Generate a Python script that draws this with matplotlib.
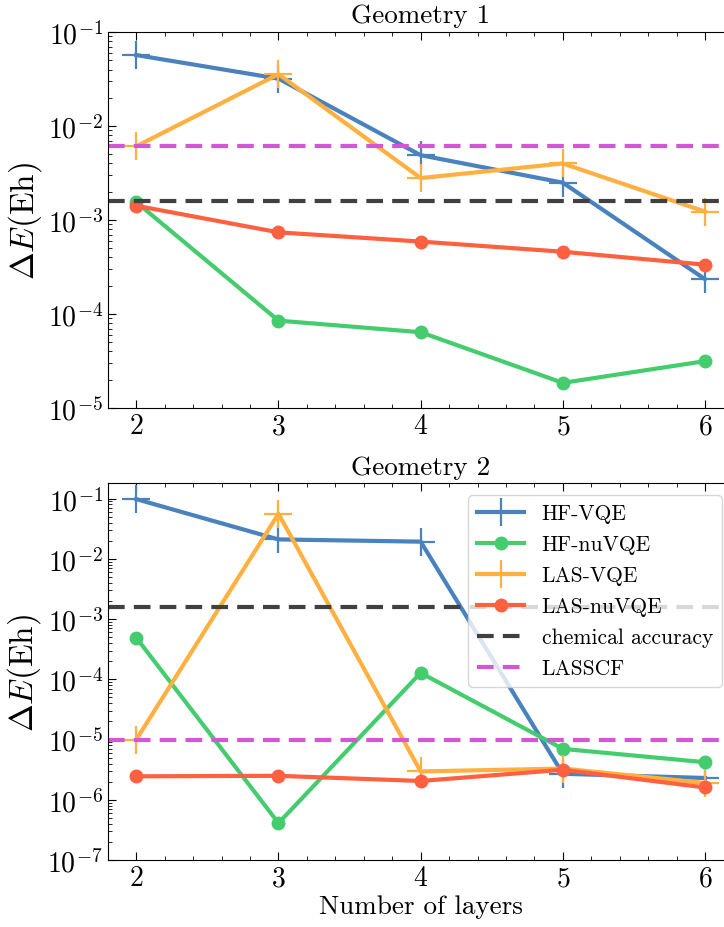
import matplotlib
matplotlib.use("Agg")
import matplotlib.pyplot as plt
from matplotlib.ticker import AutoMinorLocator, LogLocator, NullFormatter

plt.rcParams['font.family'] = 'serif'
plt.rcParams['font.serif'] = ['cmr10']
plt.rcParams['mathtext.fontset'] = 'cm'
plt.rcParams['axes.unicode_minus'] = False
plt.rcParams['axes.formatter.use_mathtext'] = True

layers = [2, 3, 4, 5, 6]

# Geometry 1
g1_hf_vqe = [0.057, 0.032, 0.0049, 0.0025, 2.35e-4]
g1_hf_nuvqe = [1.55e-3, 8.5e-5, 6.4e-5, 1.85e-5, 3.15e-5]
g1_las_vqe = [0.0061, 0.0357, 0.0028, 0.0040, 0.00123]
g1_las_nuvqe = [1.42e-3, 7.4e-4, 5.9e-4, 4.6e-4, 3.35e-4]
g1_lasscf = 0.0061

# Geometry 2
g2_hf_vqe = [0.098, 0.021, 0.0193, 2.7e-6, 2.3e-6]
g2_hf_nuvqe = [4.9e-4, 4.1e-7, 1.28e-4, 7.0e-6, 4.2e-6]
g2_las_vqe = [1.0e-5, 0.056, 2.95e-6, 3.3e-6, 1.9e-6]
g2_las_nuvqe = [2.45e-6, 2.5e-6, 2.05e-6, 3.15e-6, 1.6e-6]
g2_lasscf = 1.0e-5

chem_acc = 1.6e-3

c_blue = '#4a82be'
c_green = '#45cc6e'
c_orange = '#ffb040'
c_red = '#ff6040'
c_mag = '#d455d8'
c_black = '#404040'

fig = plt.figure(figsize=(7.24, 9.28), dpi=100)
ax1 = fig.add_axes([0.149, 0.5593, 0.864, 0.405])
ax2 = fig.add_axes([0.149, 0.0722, 0.864, 0.406])


def draw(ax, hf_vqe, hf_nuvqe, las_vqe, las_nuvqe, lasscf):
    ax.plot(layers, hf_vqe, color=c_blue, lw=3, marker='+', ms=20, mew=1.6, label='HF-VQE')
    ax.plot(layers, hf_nuvqe, color=c_green, lw=3, marker='o', ms=9, label='HF-nuVQE')
    ax.plot(layers, las_vqe, color=c_orange, lw=3, marker='+', ms=20, mew=1.6, label='LAS-VQE')
    ax.plot(layers, las_nuvqe, color=c_red, lw=3, marker='o', ms=9, label='LAS-nuVQE')
    ax.axhline(chem_acc, color=c_black, lw=3, ls=(0, (4, 2.2)), label='chemical accuracy')
    ax.axhline(lasscf, color=c_mag, lw=3, ls=(0, (4, 2.2)), label='LASSCF')
    ax.set_yscale('log')
    ax.yaxis.set_major_locator(LogLocator(base=10, numticks=20))
    ax.yaxis.set_minor_locator(LogLocator(base=10, subs=range(2, 10), numticks=20))
    ax.yaxis.set_minor_formatter(NullFormatter())
    ax.set_xlim(1.8, 6.2)
    ax.set_xticks(layers)
    ax.xaxis.set_minor_locator(AutoMinorLocator(5))
    ax.tick_params(which='both', direction='in', top=True, right=True, labelsize=20)
    ax.tick_params(which='major', length=6)
    ax.tick_params(which='minor', length=3)
    ax.set_ylabel(r'$\Delta E(\mathrm{Eh})$', fontsize=24, labelpad=3)


draw(ax1, g1_hf_vqe, g1_hf_nuvqe, g1_las_vqe, g1_las_nuvqe, g1_lasscf)
ax1.set_ylim(1e-5, 1e-1)
ax1.set_title('Geometry 1', fontsize=19.5, pad=7)

draw(ax2, g2_hf_vqe, g2_hf_nuvqe, g2_las_vqe, g2_las_nuvqe, g2_lasscf)
ax2.set_ylim(1e-7, 0.18)
ax2.set_title('Geometry 2', fontsize=19.5, pad=7)
ax2.set_xlabel('Number of layers', fontsize=19.5, labelpad=2)
ax2.legend(loc='upper right', bbox_to_anchor=(0.981, 0.968), fontsize=15.5, framealpha=0.8,
           edgecolor='#cccccc', handlelength=2.2, borderaxespad=0, labelspacing=0.53)

plt.savefig('out.png', dpi=100)
